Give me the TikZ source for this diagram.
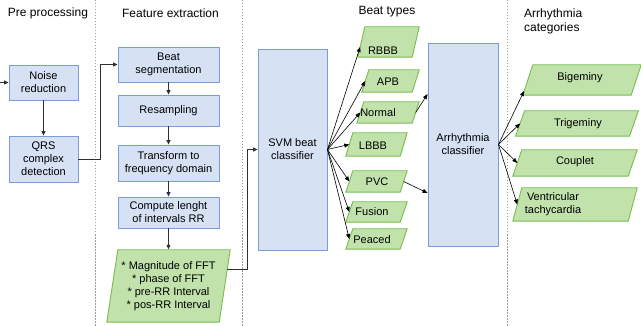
\documentclass[tikz,border=0pt]{standalone}
\usepackage{fontspec}
\setmainfont{Liberation Sans}
\usetikzlibrary{arrows.meta,backgrounds}
\definecolor{bluefill}{HTML}{D6E1F3}
\definecolor{blueline}{HTML}{7A9DD6}
\definecolor{greenfill}{HTML}{C2E2AC}
\definecolor{greenline}{HTML}{77BD4E}
\definecolor{sepline}{HTML}{9A9A9A}
\definecolor{wire}{HTML}{303030}
\begin{document}
\begin{tikzpicture}[x=1pt,y=-1pt,
  head/.style={font=\fontsize{12}{14}\selectfont, inner sep=0},
  box/.style 2 args={draw=blueline, fill=bluefill, line width=0.9pt, inner sep=0,
    align=center, font=\fontsize{11}{13}\selectfont, minimum width=#1, minimum height=#2},
  para/.style 2 args={inner sep=0, align=center, font=\fontsize{11}{13}\selectfont,
    minimum width=#1, minimum height=#2},
  lbl/.style={inner sep=0, align=center, font=\fontsize{11}{13}\selectfont},
  greenshape/.style={draw=greenline, fill=greenfill, line width=0.9pt, line join=miter},
  sep/.style={draw=sepline, line width=0.6pt, dash pattern=on 1.5pt off 1.5pt},
  flow/.style={draw=wire, line width=0.75pt, -{Triangle[length=4.5pt,width=4pt]}},
  fan/.style={draw=black, line width=0.6pt, -{Triangle[length=5pt,width=4pt]}}]
\useasboundingbox (0,0) rectangle (641,326);

% column separators
\draw[sep] (95,0) -- (95,326);
\draw[sep] (242,0) -- (242,326);
\draw[sep] (507,0) -- (507,326);

% column headings
\node[head] (h1) at (48,13) {Pre processing};
\node[head] (h2) at (170.5,13) {Feature extraction};
\node[head] (h3) at (387,12) {Beat types};
\node[head, align=left, anchor=west] (h4) at (524,21) {Arrhythmia\\categories};

% pre processing
\node[box={69}{35}] (noise) at (43.5,82.5) {Noise\\reduction};
\node[box={69}{46}] (qrs) at (43.5,159) {QRS\\complex\\detection};
\coordinate (in) at (0,82.5);

% feature extraction
\node[box={101}{35}] (seg) at (168.5,64.5) {Beat\\segmentation};
\node[box={101}{31}] (resamp) at (168.5,110.5) {Resampling};
\node[box={101}{36}] (fft) at (168.5,163) {Transform to\\frequency domain};
\node[box={101}{31}] (rr) at (168.5,212.5) {Compute lenght\\of intervals RR};
\node[para={112}{72}] (feat) at (168.5,286)
  {* Magnitude of FFT\\* phase of FFT\\* pre-RR Interval\\* pos-RR Interval};

% classifiers
\node[box={69}{201}] (svm) at (292.5,149.5) {SVM beat\\classifier};
\node[box={70}{203}] (arrh) at (463,144.5) {Arrhythmia\\classifier};

% beat types
\node[para={54}{30}, label={[lbl,shift={(-5.5,9)}]center:RBBB}] (rbbb) at (388.5,42) {};
\node[para={50}{22}, label={[lbl,shift={(-2.5,1)}]center:APB}] (apb) at (390.5,81) {};
\node[para={55}{21}, label={[lbl,shift={(-10,0.5)}]center:Normal}] (normal) at (388,112.5) {};
\node[para={54}{23}, label={[lbl,shift={(-3.5,1.5)}]center:LBBB}] (lbbb) at (376.5,144.5) {};
\node[para={54}{21}, label={[lbl,shift={(0.5,0.5)}]center:PVC}] (pvc) at (376.5,181.5) {};
\node[para={54}{20}, label={[lbl,shift={(-4.5,0)}]center:Fusion}] (fusion) at (376.5,212) {};
\node[para={54}{20}, label={[lbl,shift={(-4.5,1)}]center:Peaced}] (peaced) at (376.5,239) {};

% arrhythmia categories
\node[para={108}{30}, label={[lbl,shift={(-2,-2)}]center:Bigeminy}] (bige) at (582,80) {};
\node[para={113.5}{25}, label={[lbl,shift={(1,0)}]center:Trigeminy}] (trig) at (577,123.5) {};
\node[para={115}{26}, label={[lbl,shift={(0,-1)}]center:Couplet}] (coup) at (575,163) {};
\node[para={115}{33}, label={[lbl,shift={(-22,0)}]center:Ventricular\\tachycardia}] (vent) at (575,204.5) {};

% slanted outlines behind the output nodes
\begin{scope}[on background layer]
\foreach \n/\s in {feat/5.5, rbbb/3.5, apb/3.5, normal/3.5, lbbb/3.5, pvc/3.5,
                   fusion/3.5, peaced/3.5, bige/5, trig/4.5, coup/4.5, vent/4.5}
  \draw[greenshape] ([xshift=\s]\n.north west) -- ([xshift=\s]\n.north east)
    -- ([xshift=-\s]\n.south east) -- ([xshift=-\s]\n.south west) -- cycle;
\end{scope}

% processing chain
\draw[flow] (in) -- (noise.west);
\draw[flow] (noise) -- (qrs);
\draw[flow] (qrs.east) -- ++(22,0) |- (seg.west);
\draw[flow] (seg) -- (resamp);
\draw[flow] (resamp) -- (fft);
\draw[flow] (fft) -- (rr);
\draw[flow] (rr.south) -- ([yshift=0.5pt]feat.north);
\draw[flow] ([shift={(2.6,-17)}]feat.east) -- ++(20,0) |- (svm.west);

% beat classifier outputs
\draw[fan] (svm.east) -- ([shift={(-1.2,5)}]rbbb.west);
\foreach \t in {apb, normal, lbbb, pvc, fusion, peaced}
  \draw[fan] (svm.east) -- (\t.west);

% beats feeding the arrhythmia classifier
\draw[fan] (normal.east) -- ([shift={(0,-50.5)}]arrh.west);
\draw[fan] (pvc.east) -- ([shift={(0,48.5)}]arrh.west);

% arrhythmia classifier outputs
\draw[fan] (arrh.east) -- ([shift={(-3.7,11)}]bige.west);
\foreach \t in {trig, coup, vent}
  \draw[fan] (arrh.east) -- (\t.west);
\end{tikzpicture}
\end{document}
